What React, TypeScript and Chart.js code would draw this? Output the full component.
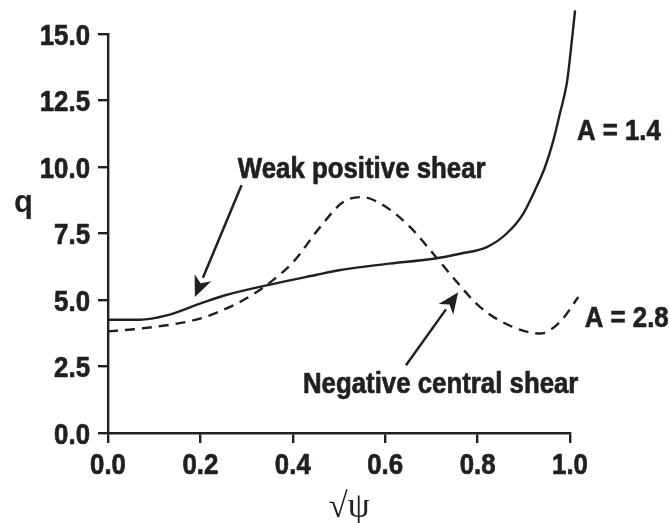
import React, { useEffect, useRef } from "react";
import { Chart, registerables } from "chart.js";

Chart.register(...registerables);

// x values (sqrt psi) and q values
const solidX = [0.0, 0.069, 0.127, 0.199, 0.25, 0.343, 0.452, 0.5, 0.6, 0.704, 0.762, 0.82, 0.863, 0.899, 0.924, 0.946, 0.964, 0.978, 0.993, 0.999, 1.011];
const solidQ = [4.26, 4.26, 4.42, 4.86, 5.16, 5.55, 5.95, 6.12, 6.35, 6.55, 6.74, 6.99, 7.5, 8.25, 9.12, 10.0, 11.0, 12.0, 13.14, 13.95, 15.89];

const dashX = [0.0, 0.055, 0.127, 0.199, 0.271, 0.322, 0.365, 0.401, 0.459, 0.509, 0.549, 0.596, 0.654, 0.704, 0.755, 0.805, 0.877, 0.935, 0.978, 1.018];
const dashQ = [3.82, 3.9, 4.05, 4.3, 4.8, 5.3, 5.86, 6.43, 7.74, 8.68, 8.87, 8.56, 7.74, 6.74, 5.68, 4.74, 3.98, 3.74, 4.17, 5.11];

const xTicks = [0.0, 0.2, 0.4, 0.6, 0.8, 1.0];
const yTicks = [0.0, 2.5, 5.0, 7.5, 10.0, 12.5, 15.0];

const xTitle = "\u221A\u03C8";
const yTitle = "q";

// annotation texts with anchor in data units
const labelTexts = ["Weak positive shear", "Negative central shear", "A = 1.4", "A = 2.8"];
const labelX = [0.281, 0.422, 1.015, 1.032];
const labelY = [9.58, 1.49, 11.0, 3.97];

// arrows: from -> to (data units)
const arrowFromX = [0.289, 0.645];
const arrowFromY = [9.31, 2.55];
const arrowToX = [0.188, 0.758];
const arrowToY = [5.11, 5.29];

const INK = "#231f20";
const BOLD = "bold 29px 'Liberation Sans', Arial, sans-serif";
const SX = 0.89; // horizontal condensing of the bold face

function narrowText(ctx: CanvasRenderingContext2D, text: string, x: number, y: number, align: CanvasTextAlign) {
  ctx.save();
  ctx.translate(x, y);
  ctx.scale(SX, 1);
  ctx.font = BOLD;
  ctx.textAlign = align;
  ctx.textBaseline = "alphabetic";
  ctx.lineWidth = 0.7;
  ctx.lineJoin = "round";
  ctx.fillText(text, 0, 0);
  ctx.strokeText(text, 0, 0);
  ctx.restore();
}

const annotationPlugin = {
  id: "annotations",
  afterDraw(chart: any) {
    const ctx = chart.ctx as CanvasRenderingContext2D;
    const xs = chart.scales.x;
    const ys = chart.scales.y;
    ctx.save();
    ctx.fillStyle = INK;
    ctx.strokeStyle = INK;
    // tick labels (condensed bold), positioned by the library scales
    xs.ticks.forEach((t: any) => {
      narrowText(ctx, Number(t.value).toFixed(1), xs.getPixelForValue(t.value), xs.top + 41, "center");
    });
    ys.ticks.forEach((t: any) => {
      narrowText(ctx, Number(t.value).toFixed(1), ys.right - 18, ys.getPixelForValue(t.value) + 10.5, "right");
    });
    // texts
    labelTexts.forEach((t, i) => {
      narrowText(ctx, t, xs.getPixelForValue(labelX[i]), ys.getPixelForValue(labelY[i]), "left");
    });
    // arrows
    arrowFromX.forEach((_, i) => {
      const x0 = xs.getPixelForValue(arrowFromX[i]);
      const y0 = ys.getPixelForValue(arrowFromY[i]);
      const x1 = xs.getPixelForValue(arrowToX[i]);
      const y1 = ys.getPixelForValue(arrowToY[i]);
      const ang = Math.atan2(y1 - y0, x1 - x0);
      const headLen = 21;
      const headW = 9;
      const bx = x1 - headLen * Math.cos(ang);
      const by = y1 - headLen * Math.sin(ang);
      ctx.lineWidth = 2.5;
      ctx.beginPath();
      ctx.moveTo(x0, y0);
      ctx.lineTo(bx, by);
      ctx.stroke();
      ctx.beginPath();
      ctx.moveTo(x1, y1);
      ctx.lineTo(bx + headW * Math.sin(ang), by - headW * Math.cos(ang));
      ctx.lineTo(x1 - (headLen - 6) * Math.cos(ang), y1 - (headLen - 6) * Math.sin(ang));
      ctx.lineTo(bx - headW * Math.sin(ang), by + headW * Math.cos(ang));
      ctx.closePath();
      ctx.fill();
    });
    // axis titles
    ctx.font = "bold 31px 'Liberation Sans', Arial, sans-serif";
    ctx.textAlign = "left";
    ctx.textBaseline = "alphabetic";
    ctx.fillText(yTitle, 14, 212);
    ctx.font = "35px 'Liberation Serif', 'DejaVu Serif', serif";
    ctx.textAlign = "center";
    ctx.fillText(xTitle, (xs.left + xs.right) / 2 + 10, 517);
    ctx.restore();
  },
};

export default function App() {
  const ref = useRef<HTMLCanvasElement | null>(null);
  useEffect(() => {
    if (!ref.current) return;
    const grid = { drawOnChartArea: false, drawTicks: true, tickLength: 10, color: INK, lineWidth: 2.4 };
    const border = { display: true, color: INK, width: 2.4 };
    const chart = new Chart(ref.current, {
      type: "line",
      data: {
        datasets: [
          {
            label: "A = 1.4",
            data: solidX.map((x, i) => ({ x, y: solidQ[i] })),
            borderColor: INK,
            borderWidth: 2.4,
            pointRadius: 0,
            cubicInterpolationMode: "monotone",
            clip: false as any,
            fill: false,
          },
          {
            label: "A = 2.8",
            data: dashX.map((x, i) => ({ x, y: dashQ[i] })),
            borderColor: INK,
            borderWidth: 2.4,
            borderDash: [10, 7],
            pointRadius: 0,
            cubicInterpolationMode: "monotone",
            clip: false as any,
            fill: false,
          },
        ],
      },
      options: {
        animation: false,
        responsive: false,
        devicePixelRatio: 1,
        layout: { padding: { left: 0, right: 100, top: 34, bottom: 0 } },
        plugins: { legend: { display: false }, tooltip: { enabled: false } },
        scales: {
          x: {
            type: "linear",
            min: 0,
            max: 1,
            afterFit: (s: any) => {
              s.height = 90;
            },
            afterBuildTicks: (s: any) => {
              s.ticks = xTicks.map((v) => ({ value: v }));
            },
            ticks: { display: false },
            grid,
            border,
          },
          y: {
            type: "linear",
            min: 0,
            max: 15,
            afterFit: (s: any) => {
              s.width = 108;
            },
            afterBuildTicks: (s: any) => {
              s.ticks = yTicks.map((v) => ({ value: v }));
            },
            ticks: { display: false },
            grid,
            border,
          },
        },
      },
      plugins: [annotationPlugin],
    } as any);
    return () => chart.destroy();
  }, []);
  return (
    <div style={{ position: "absolute", left: 0, top: 0, width: 670, height: 523, background: "#fff" }}>
      <canvas ref={ref} width={670} height={523} style={{ display: "block" }} />
    </div>
  );
}
